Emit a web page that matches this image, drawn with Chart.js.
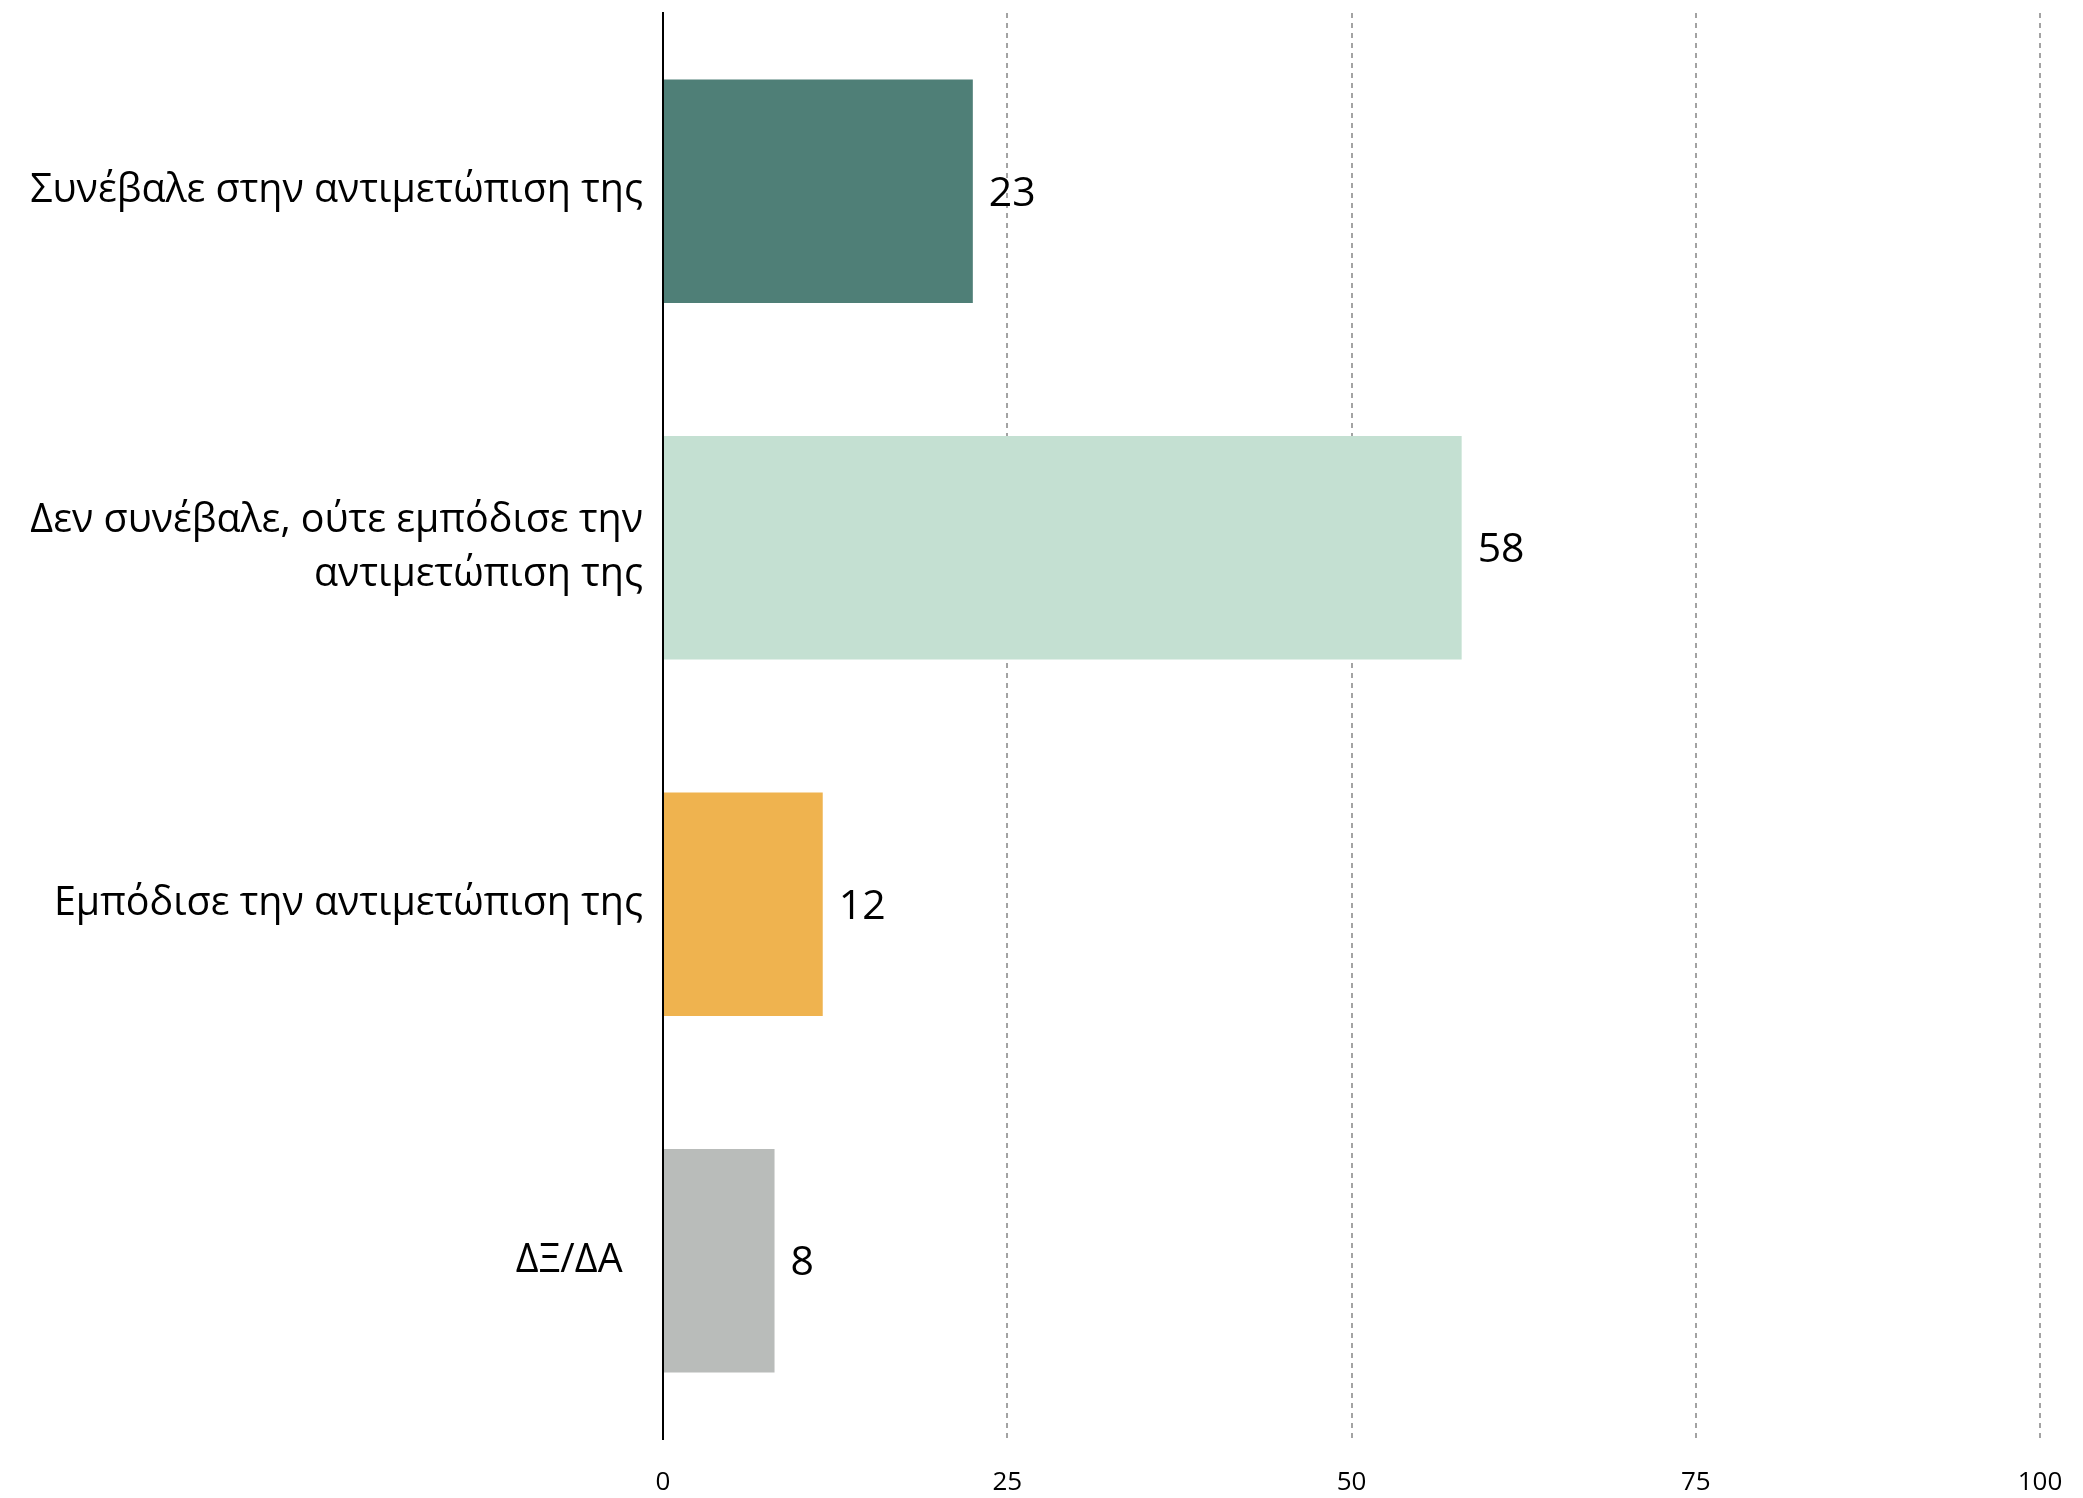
<!DOCTYPE html>
<html>
<head>
<meta charset="utf-8">
<script src="https://cdn.jsdelivr.net/npm/chart.js@4/dist/chart.umd.min.js"></script>
<style>
  html, body { margin: 0; padding: 0; background: #fff; overflow: hidden; }
  #wrap { width: 2083px; height: 1498px; position: relative; }
</style>
</head>
<body>
<div id="wrap"><canvas id="answerChart"></canvas></div>
<script>
// categories, top to bottom
const categories = [
    'Συνέβαλε στην αντιμετώπιση της',
    ['Δεν συνέβαλε, ούτε εμπόδισε την', 'αντιμετώπιση της'],
    'Εμπόδισε την αντιμετώπιση της',
    'ΔΞ/ΔΑ  '
];
// bar lengths, labels as printed
const values = [22.5, 58, 11.6, 8.1];
const valueLabels = ['23', '58', '12', '8'];
const barColors = ['#4f7f77', '#c4e0d2', '#efb34f', '#b9bcba'];
const xTicks = [0, 25, 50, 75, 100];

const FONT = "'Open Sans', 'Noto Sans', sans-serif";

// writes the number next to the end of each bar
const valueLabelPlugin = {
    id: 'valueLabels',
    afterDatasetsDraw(chart) {
        const ctx = chart.ctx;
        const meta = chart.getDatasetMeta(0);
        ctx.save();
        ctx.font = '41px ' + FONT;
        ctx.fillStyle = '#000';
        ctx.textAlign = 'left';
        ctx.textBaseline = 'middle';
        meta.data.forEach((bar, i) => {
            ctx.fillText(valueLabels[i], bar.x + 16, bar.y + 3);
        });
        ctx.restore();
    }
};

new Chart(document.getElementById('answerChart'), {
    type: 'bar',
    data: {
        labels: categories,
        datasets: [{
            data: values,
            backgroundColor: barColors,
            borderWidth: 0,
            categoryPercentage: 1,
            barPercentage: 0.627
        }]
    },
    options: {
        indexAxis: 'y',
        responsive: true,
        maintainAspectRatio: false,
        animation: false,
        layout: { padding: { top: 13, right: 43, bottom: 1, left: 0 } },
        plugins: {
            legend: { display: false },
            tooltip: { enabled: false }
        },
        scales: {
            x: {
                min: 0,
                max: 100,
                z: 1,
                afterBuildTicks: (scale) => {
                    scale.ticks = xTicks.map(v => ({ value: v }));
                },
                afterFit: (scale) => {
                    scale.height = 58;
                    scale.paddingLeft = 0;
                    scale.paddingRight = 0;
                },
                grid: {
                    drawTicks: false,
                    lineWidth: 2,
                    color: (c) => c.tick && c.tick.value === 0 ? 'rgba(0,0,0,0)' : '#a3a3a3'
                },
                border: { display: false, dash: [5, 5] },
                ticks: {
                    padding: 28,
                    color: '#000',
                    font: { family: FONT, size: 26 }
                }
            },
            y: {
                afterFit: (scale) => {
                    scale.width = 663;
                    scale.paddingTop = 0;
                    scale.paddingBottom = 0;
                },
                grid: { display: false, drawTicks: false },
                border: { display: true, color: '#000', width: 2 },
                ticks: {
                    padding: 20,
                    color: '#000',
                    font: { family: FONT, size: 39.4, lineHeight: 1.38 }
                }
            }
        }
    },
    plugins: [valueLabelPlugin]
});
</script>
</body>
</html>
